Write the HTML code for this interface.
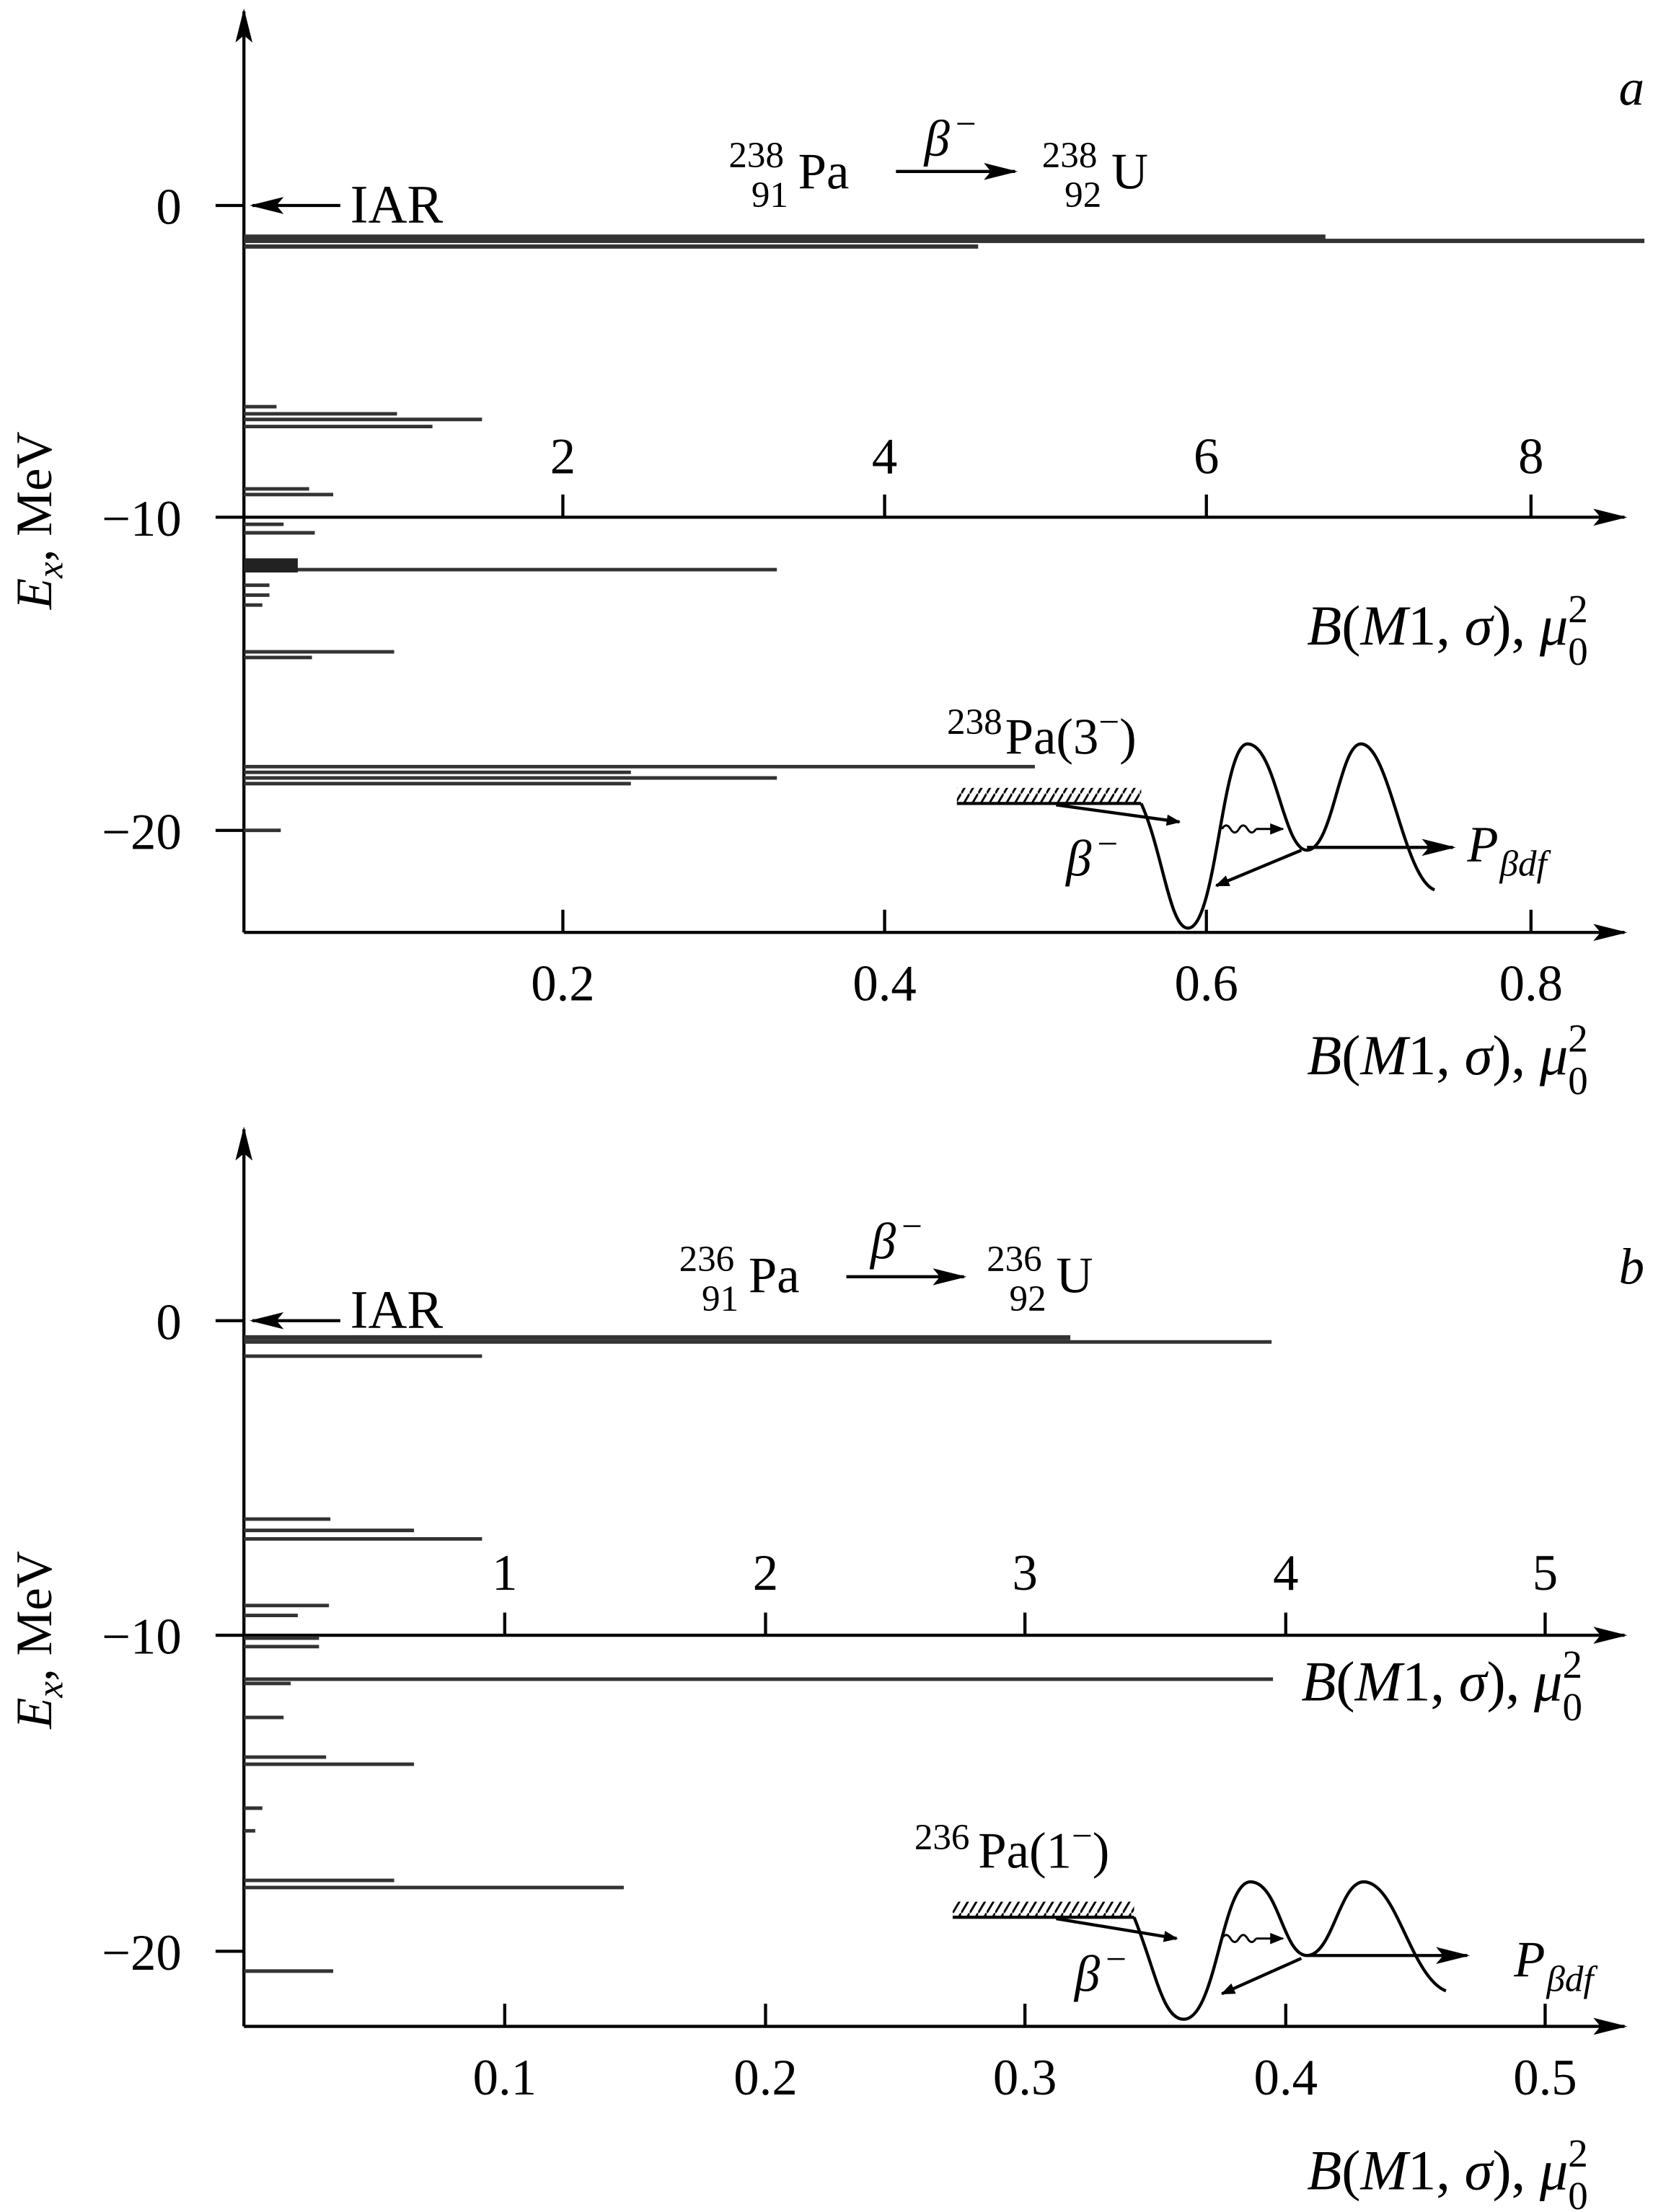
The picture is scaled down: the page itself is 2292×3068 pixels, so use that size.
<!DOCTYPE html>
<html><head><meta charset="utf-8"><style>html,body{margin:0;padding:0;background:#fff}svg{display:block}</style></head>
<body>
<svg xmlns="http://www.w3.org/2000/svg" width="2292" height="3068" viewBox="0 0 1166 1561" font-family="Liberation Serif, serif" fill="#000">
<defs>
<marker id="ah" markerWidth="10" markerHeight="8" refX="9" refY="4" orient="auto" markerUnits="userSpaceOnUse"><path d="M0,0 L10,4 L0,8 Z" fill="#000"/></marker>
<marker id="big" markerWidth="24" markerHeight="12" refX="22" refY="6" orient="auto" markerUnits="userSpaceOnUse"><path d="M0,0 L24,6 L0,12 L5,6 Z" fill="#000"/></marker>
<pattern id="hatch" width="6" height="10" patternUnits="userSpaceOnUse"><path d="M0,10 L6,0" stroke="#000" stroke-width="1.5"/></pattern>
</defs>
<g stroke="#000" stroke-width="2.2" fill="none">
<line x1="172" y1="658" x2="172" y2="8" marker-end="url(#big)"/>
<line x1="172" y1="658" x2="1146" y2="658" marker-end="url(#big)"/>
<line x1="172" y1="365" x2="1146" y2="365" marker-end="url(#big)"/>
<path d="M152,145H172M152,365H172M152,586H172"/>
<path d="M397,658V642M624,658V642M851,658V642M1080,658V642"/>
<path d="M397,365V349M624,365V349M851,365V349M1080,365V349"/>
<line x1="172" y1="1430" x2="172" y2="797" marker-end="url(#big)"/>
<line x1="172" y1="1430" x2="1146" y2="1430" marker-end="url(#big)"/>
<line x1="172" y1="1154" x2="1146" y2="1154" marker-end="url(#big)"/>
<path d="M152,932H172M152,1154H172M152,1377H172"/>
<path d="M356,1430V1414M540,1430V1414M723,1430V1414M907,1430V1414M1090,1430V1414"/>
<path d="M356,1154V1138M540,1154V1138M723,1154V1138M907,1154V1138M1090,1154V1138"/>
<line x1="240" y1="145" x2="178" y2="145" marker-end="url(#big)"/>
<line x1="240" y1="932" x2="178" y2="932" marker-end="url(#big)"/>
<line x1="632" y1="121" x2="716" y2="121" marker-end="url(#big)"/>
<line x1="597" y1="901" x2="680" y2="901" marker-end="url(#big)"/>
</g>
<g stroke="#333" fill="none">
<path stroke-width="3" d="M172,167H935M172,170H1160M172,174H690"/>
<path stroke-width="2.5" d="M172,287H195M172,292H280M172,296H340M172,301H305M172,345H218M172,349H235M172,370H200M172,376H222"/>
<path stroke-width="2.5" d="M172,402H548M172,413H190M172,420H190M172,427H185M172,460H278M172,464H220M172,541H730M172,545H445M172,549H548M172,553H445M172,586H198"/>
<rect x="172" y="394" width="38" height="10" fill="#222" stroke="none"/>
<path stroke-width="3.5" d="M172,944H755"/>
<path stroke-width="2.5" d="M172,947H897M172,957H340M172,1072H233M172,1080H292M172,1086H340M172,1133H232M172,1140H210M172,1156H225M172,1162H225M172,1185H898M172,1188H205M172,1212H200M172,1240H230M172,1245H292M172,1276H185M172,1292H180M172,1327H278M172,1332H440M172,1391H235"/>
</g>
<g font-size="36">
<text x="128" y="158" text-anchor="end">0</text>
<text x="128" y="378" text-anchor="end">−10</text>
<text x="128" y="599" text-anchor="end">−20</text>
<text x="247" y="157" font-size="38">IAR</text>
<text x="397" y="334" text-anchor="middle">2</text><text x="624" y="334" text-anchor="middle">4</text><text x="851" y="334" text-anchor="middle">6</text><text x="1080" y="334" text-anchor="middle">8</text>
<text x="397" y="706" text-anchor="middle">0.2</text><text x="624" y="706" text-anchor="middle">0.4</text><text x="851" y="706" text-anchor="middle">0.6</text><text x="1080" y="706" text-anchor="middle">0.8</text>
<text x="1160" y="74" text-anchor="end" font-style="italic">a</text>
<text x="128" y="945" text-anchor="end">0</text>
<text x="128" y="1167" text-anchor="end">−10</text>
<text x="128" y="1390" text-anchor="end">−20</text>
<text x="247" y="937" font-size="38">IAR</text>
<text x="356" y="1122" text-anchor="middle">1</text><text x="540" y="1122" text-anchor="middle">2</text><text x="723" y="1122" text-anchor="middle">3</text><text x="907" y="1122" text-anchor="middle">4</text><text x="1090" y="1122" text-anchor="middle">5</text>
<text x="356" y="1478" text-anchor="middle">0.1</text><text x="540" y="1478" text-anchor="middle">0.2</text><text x="723" y="1478" text-anchor="middle">0.3</text><text x="907" y="1478" text-anchor="middle">0.4</text><text x="1090" y="1478" text-anchor="middle">0.5</text>
<text x="1160" y="906" text-anchor="end" font-style="italic">b</text>
<text transform="translate(36,430) rotate(-90)"><tspan font-style="italic">E</tspan><tspan font-style="italic" font-size="26" dy="8">x</tspan><tspan dy="-8">, MeV</tspan></text>
<text transform="translate(36,1220) rotate(-90)"><tspan font-style="italic">E</tspan><tspan font-style="italic" font-size="26" dy="8">x</tspan><tspan dy="-8">, MeV</tspan></text>
<g font-size="40">
<text x="922" y="455"><tspan font-style="italic">B</tspan>(<tspan font-style="italic">M</tspan>1, <tspan font-style="italic">σ</tspan>), <tspan font-style="italic">μ</tspan><tspan font-size="28" dy="-16">2</tspan><tspan font-size="28" dx="-14" dy="30">0</tspan></text>
<text x="922" y="758"><tspan font-style="italic">B</tspan>(<tspan font-style="italic">M</tspan>1, <tspan font-style="italic">σ</tspan>), <tspan font-style="italic">μ</tspan><tspan font-size="28" dy="-16">2</tspan><tspan font-size="28" dx="-14" dy="30">0</tspan></text>
<text x="918" y="1200"><tspan font-style="italic">B</tspan>(<tspan font-style="italic">M</tspan>1, <tspan font-style="italic">σ</tspan>), <tspan font-style="italic">μ</tspan><tspan font-size="28" dy="-16">2</tspan><tspan font-size="28" dx="-14" dy="30">0</tspan></text>
<text x="922" y="1545"><tspan font-style="italic">B</tspan>(<tspan font-style="italic">M</tspan>1, <tspan font-style="italic">σ</tspan>), <tspan font-style="italic">μ</tspan><tspan font-size="28" dy="-16">2</tspan><tspan font-size="28" dx="-14" dy="30">0</tspan></text>
</g>
<text x="514" y="118" font-size="26">238</text><text x="530" y="146" font-size="26">91</text><text x="563" y="133">Pa</text>
<text x="652" y="110" font-style="italic">β</text><text x="674" y="96" font-size="26">−</text>
<text x="735" y="118" font-size="26">238</text><text x="751" y="146" font-size="26">92</text><text x="784" y="133">U</text>
<text x="479" y="897" font-size="26">236</text><text x="495" y="925" font-size="26">91</text><text x="528" y="912">Pa</text>
<text x="614" y="888" font-style="italic">β</text><text x="636" y="874" font-size="26">−</text>
<text x="696" y="897" font-size="26">236</text><text x="712" y="925" font-size="26">92</text><text x="745" y="912">U</text>
<text x="668" y="518" font-size="26">238</text><text x="709" y="532">Pa(3<tspan font-size="26" dy="-14">−</tspan><tspan dy="14">)</tspan></text>
<text x="752" y="618" font-style="italic">β</text><text x="774" y="604" font-size="26">−</text>
<text x="1035" y="608" font-style="italic">P</text><text x="1058" y="618" font-style="italic" font-size="26">βdf</text>
<text x="645" y="1305" font-size="26">236</text><text x="690" y="1318">Pa(1<tspan font-size="26" dy="-14">−</tspan><tspan dy="14">)</tspan></text>
<text x="758" y="1405" font-style="italic">β</text><text x="780" y="1391" font-size="26">−</text>
<text x="1068" y="1395" font-style="italic">P</text><text x="1091" y="1405" font-style="italic" font-size="26">βdf</text>
</g>
<g stroke="#000" stroke-width="2.2" fill="none">
<rect x="675" y="556" width="130" height="10" fill="url(#hatch)" stroke="none"/>
<line x1="675" y1="567" x2="805" y2="567"/>
<line x1="745" y1="568" x2="832" y2="580" marker-end="url(#ah)"/>
<path d="M805,567 C820,600 825,655 838,655 C858,655 862,525 880,525 C900,525 905,600 922,600 C940,600 945,525 960,525 C980,525 990,620 1012,628"/>
<line x1="922" y1="598" x2="1025" y2="598" marker-end="url(#big)"/>
<line x1="918" y1="600" x2="858" y2="625" marker-end="url(#ah)"/>
<path d="M862,585 q3,-5 6,0 t6,0 t6,0 t6,0" stroke-width="1.5"/>
<line x1="886" y1="585" x2="905" y2="585" stroke-width="1.5" marker-end="url(#ah)"/>
<rect x="672" y="1342" width="128" height="10" fill="url(#hatch)" stroke="none"/>
<line x1="672" y1="1353" x2="800" y2="1353"/>
<line x1="745" y1="1354" x2="830" y2="1368" marker-end="url(#ah)"/>
<path d="M800,1353 C815,1390 820,1425 835,1425 C858,1425 862,1328 882,1328 C902,1328 905,1380 922,1380 C940,1380 945,1328 962,1328 C985,1328 995,1395 1020,1405"/>
<line x1="922" y1="1380" x2="1035" y2="1380" marker-end="url(#big)"/>
<line x1="918" y1="1382" x2="862" y2="1407" marker-end="url(#ah)"/>
<path d="M862,1368 q3,-5 6,0 t6,0 t6,0 t6,0" stroke-width="1.5"/>
<line x1="886" y1="1368" x2="905" y2="1368" stroke-width="1.5" marker-end="url(#ah)"/>
</g>
</svg>
</body></html>
